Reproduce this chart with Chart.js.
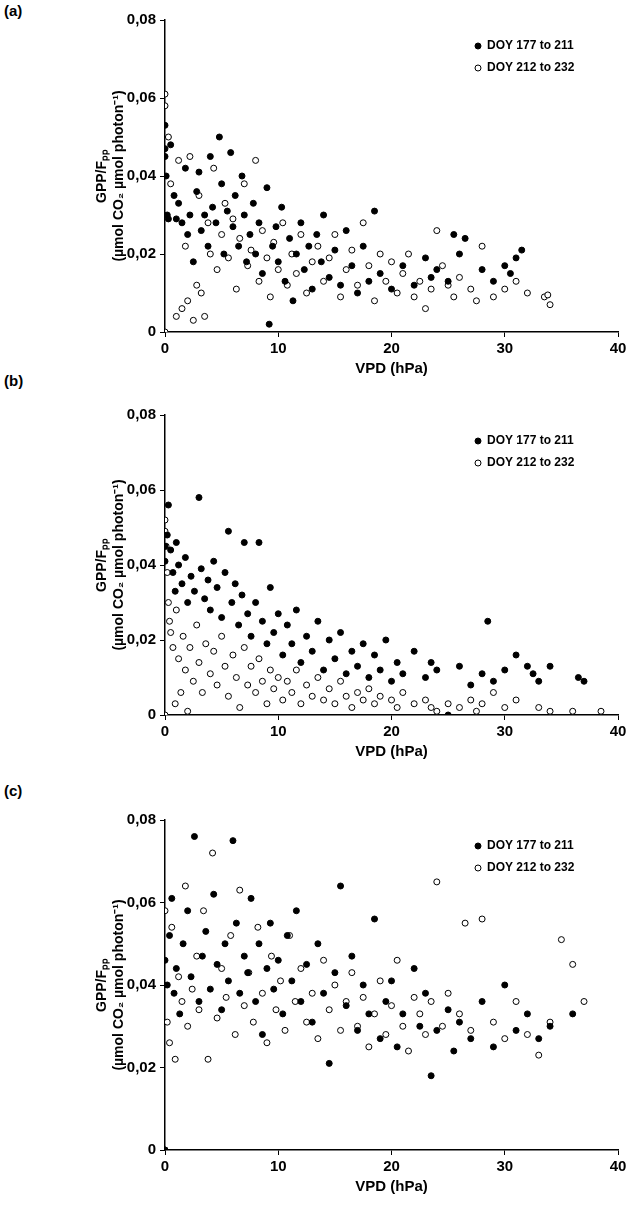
<!DOCTYPE html>
<html>
<head>
<meta charset="utf-8">
<script src="https://cdn.jsdelivr.net/npm/chart.js@4"></script>
<style>
  body { margin: 0; background: #fff; width: 632px; height: 1227px; position: relative; overflow: hidden; }
  .box { position: absolute; left: 0; width: 632px; }
  .lab { position: absolute; left: 4px; font: bold 15px "Liberation Sans", Arial, sans-serif; }
</style>
</head>
<body>
<div class="lab" style="top:2px">(a)</div>
<div class="lab" style="top:372px">(b)</div>
<div class="lab" style="top:782px">(c)</div>
<div class="box" style="top:0;height:382px"><canvas id="ga"></canvas></div>
<div class="box" style="top:375px;height:390px"><canvas id="gb"></canvas></div>
<div class="box" style="top:785px;height:415px"><canvas id="gc"></canvas></div>
<script>
const serieNombres = ['DOY 177 to 211', 'DOY 212 to 232'];
const xTicks = [0, 10, 20, 30, 40];
const yTicks = [0, 0.02, 0.04, 0.06, 0.08];

const aLleno = [[0,0.053],[0,0.047],[0,0.045],[0.1,0.04],[0.2,0.03],[0.3,0.029],[0.5,0.048],[0.8,0.035],[1,0.029],[1.2,0.033],[1.5,0.028],[1.8,0.042],[2,0.025],[2.2,0.03],[2.5,0.018],[2.8,0.036],[3,0.041],[3.2,0.026],[3.5,0.03],[3.8,0.022],[4,0.045],[4.2,0.032],[4.5,0.028],[4.8,0.05],[5,0.038],[5.2,0.02],[5.5,0.031],[5.8,0.046],[6,0.027],[6.2,0.035],[6.5,0.022],[6.8,0.04],[7,0.03],[7.2,0.018],[7.5,0.025],[7.8,0.033],[8,0.02],[8.3,0.028],[8.6,0.015],[9,0.037],[9.2,0.002],[9.5,0.022],[9.8,0.027],[10,0.018],[10.3,0.032],[10.6,0.013],[11,0.024],[11.3,0.008],[11.6,0.02],[12,0.028],[12.3,0.016],[12.7,0.022],[13,0.011],[13.4,0.025],[13.8,0.018],[14,0.03],[14.5,0.014],[15,0.021],[15.5,0.012],[16,0.026],[16.5,0.017],[17,0.01],[17.5,0.022],[18,0.013],[18.5,0.031],[19,0.015],[20,0.011],[21,0.017],[22,0.012],[23,0.019],[23.5,0.014],[24,0.016],[25,0.013],[25.5,0.025],[26,0.02],[26.5,0.024],[28,0.016],[29,0.013],[30,0.017],[31,0.019],[31.5,0.021],[30.5,0.015]];
const aVacio = [[0,0.061],[0,0.058],[0,0],[0.3,0.05],[0.5,0.038],[1,0.004],[1.2,0.044],[1.5,0.006],[1.8,0.022],[2,0.008],[2.2,0.045],[2.5,0.003],[2.8,0.012],[3,0.035],[3.2,0.01],[3.5,0.004],[3.8,0.028],[4,0.02],[4.3,0.042],[4.6,0.016],[5,0.025],[5.3,0.033],[5.6,0.019],[6,0.029],[6.3,0.011],[6.6,0.024],[7,0.038],[7.3,0.017],[7.6,0.021],[8,0.044],[8.3,0.013],[8.6,0.026],[9,0.019],[9.3,0.009],[9.6,0.023],[10,0.016],[10.4,0.028],[10.8,0.012],[11.2,0.02],[11.6,0.015],[12,0.025],[12.5,0.01],[13,0.018],[13.5,0.022],[14,0.013],[14.5,0.019],[15,0.025],[15.5,0.009],[16,0.016],[16.5,0.021],[17,0.012],[17.5,0.028],[18,0.017],[18.5,0.008],[19,0.02],[19.5,0.013],[20,0.018],[20.5,0.01],[21,0.015],[21.5,0.02],[22,0.009],[22.5,0.013],[23,0.006],[23.5,0.011],[24,0.026],[24.5,0.017],[25,0.012],[25.5,0.009],[26,0.014],[27,0.011],[27.5,0.008],[28,0.022],[29,0.009],[30,0.011],[31,0.013],[32,0.01],[33.5,0.009],[34,0.007],[33.8,0.0095]];

const bLleno = [[0,0.045],[0,0.041],[0.2,0.048],[0.3,0.056],[0.5,0.044],[0.7,0.038],[0.9,0.033],[1,0.046],[1.2,0.04],[1.5,0.035],[1.8,0.042],[2,0.03],[2.3,0.037],[2.6,0.033],[3,0.058],[3.2,0.039],[3.5,0.031],[3.8,0.036],[4,0.028],[4.3,0.041],[4.6,0.034],[5,0.026],[5.3,0.038],[5.6,0.049],[5.9,0.03],[6.2,0.035],[6.5,0.024],[6.8,0.032],[7,0.046],[7.3,0.027],[7.6,0.021],[8,0.03],[8.3,0.046],[8.6,0.025],[9,0.019],[9.3,0.034],[9.6,0.022],[10,0.027],[10.4,0.016],[10.8,0.024],[11.2,0.019],[11.6,0.028],[12,0.014],[12.5,0.021],[13,0.017],[13.5,0.025],[14,0.012],[14.5,0.02],[15,0.015],[15.5,0.022],[16,0.011],[16.5,0.017],[17,0.013],[17.5,0.019],[18,0.01],[18.5,0.016],[19,0.012],[19.5,0.02],[20,0.009],[20.5,0.014],[21,0.011],[22,0.017],[23,0.01],[23.5,0.014],[24,0.012],[25,0],[26,0.013],[27,0.008],[28,0.011],[28.5,0.025],[29,0.009],[30,0.012],[31,0.016],[32,0.013],[32.5,0.011],[33,0.009],[34,0.013],[36.5,0.01],[37,0.009]];
const bVacio = [[0,0],[0,0.052],[0,0.049],[0.1,0.045],[0.2,0.038],[0.3,0.03],[0.4,0.025],[0.5,0.022],[0.7,0.018],[0.9,0.003],[1,0.028],[1.2,0.015],[1.4,0.006],[1.6,0.021],[1.8,0.012],[2,0.001],[2.2,0.018],[2.5,0.009],[2.8,0.024],[3,0.014],[3.3,0.006],[3.6,0.019],[4,0.011],[4.3,0.017],[4.6,0.008],[5,0.021],[5.3,0.013],[5.6,0.005],[6,0.016],[6.3,0.01],[6.6,0.002],[7,0.018],[7.3,0.008],[7.6,0.013],[8,0.006],[8.3,0.015],[8.6,0.009],[9,0.003],[9.3,0.012],[9.6,0.007],[10,0.01],[10.4,0.004],[10.8,0.009],[11.2,0.006],[11.6,0.012],[12,0.003],[12.5,0.008],[13,0.005],[13.5,0.01],[14,0.004],[14.5,0.007],[15,0.003],[15.5,0.009],[16,0.005],[16.5,0.002],[17,0.006],[17.5,0.004],[18,0.007],[18.5,0.003],[19,0.005],[20,0.004],[20.5,0.002],[21,0.006],[22,0.003],[23,0.004],[23.5,0.002],[24,0.001],[25,0.003],[26,0.002],[27,0.004],[27.5,0.001],[28,0.003],[29,0.006],[30,0.002],[31,0.004],[33,0.002],[34,0.001],[36,0.001],[38.5,0.001]];

const cLleno = [[0,0],[0,0.046],[0.2,0.04],[0.4,0.052],[0.6,0.061],[0.8,0.038],[1,0.044],[1.3,0.033],[1.6,0.05],[2,0.058],[2.3,0.042],[2.6,0.076],[3,0.036],[3.3,0.047],[3.6,0.053],[4,0.039],[4.3,0.062],[4.6,0.045],[5,0.034],[5.3,0.05],[5.6,0.041],[6,0.075],[6.3,0.055],[6.6,0.038],[7,0.047],[7.3,0.043],[7.6,0.061],[8,0.036],[8.3,0.05],[8.6,0.028],[9,0.044],[9.3,0.055],[9.6,0.039],[10,0.046],[10.4,0.033],[10.8,0.052],[11.2,0.041],[11.6,0.058],[12,0.036],[12.5,0.045],[13,0.031],[13.5,0.05],[14,0.038],[14.5,0.021],[15,0.043],[15.5,0.064],[16,0.035],[16.5,0.047],[17,0.029],[17.5,0.04],[18,0.033],[18.5,0.056],[19,0.027],[19.5,0.036],[20,0.041],[20.5,0.025],[21,0.033],[22,0.044],[22.5,0.03],[23,0.038],[23.5,0.018],[24,0.029],[25,0.034],[25.5,0.024],[26,0.031],[27,0.027],[28,0.036],[29,0.025],[30,0.04],[31,0.029],[32,0.033],[33,0.027],[34,0.03],[36,0.033]];
const cVacio = [[0,0],[0,0.058],[0.2,0.031],[0.4,0.026],[0.6,0.054],[0.9,0.022],[1.2,0.042],[1.5,0.036],[1.8,0.064],[2,0.03],[2.4,0.039],[2.8,0.047],[3,0.034],[3.4,0.058],[3.8,0.022],[4.2,0.072],[4.6,0.032],[5,0.044],[5.4,0.037],[5.8,0.052],[6.2,0.028],[6.6,0.063],[7,0.035],[7.4,0.043],[7.8,0.031],[8.2,0.054],[8.6,0.038],[9,0.026],[9.4,0.047],[9.8,0.034],[10.2,0.041],[10.6,0.029],[11,0.052],[11.5,0.036],[12,0.044],[12.5,0.031],[13,0.038],[13.5,0.027],[14,0.046],[14.5,0.034],[15,0.04],[15.5,0.029],[16,0.036],[16.5,0.043],[17,0.03],[17.5,0.037],[18,0.025],[18.5,0.033],[19,0.041],[19.5,0.028],[20,0.035],[20.5,0.046],[21,0.03],[21.5,0.024],[22,0.037],[22.5,0.033],[23,0.028],[23.5,0.036],[24,0.065],[24.5,0.03],[25,0.038],[26,0.033],[26.5,0.055],[27,0.029],[28,0.056],[29,0.031],[30,0.027],[31,0.036],[32,0.028],[33,0.023],[34,0.031],[35,0.051],[36,0.045],[37,0.036]];

const fuente = '"Liberation Sans", Arial, sans-serif';

const leyenda = {
    id: 'leyenda',
    afterDraw(chart) {
        const c = chart.ctx, a = chart.chartArea;
        const x = a.right - 140;
        c.save();
        c.font = 'bold 12px ' + fuente;
        c.textBaseline = 'middle';
        chart.data.datasets.forEach((ds, i) => {
            const y = a.top + 26 + i * 22;
            c.beginPath();
            c.arc(x, y, 3, 0, Math.PI * 2);
            c.fillStyle = ds.pointBackgroundColor;
            c.fill();
            c.lineWidth = 1;
            c.strokeStyle = '#000';
            c.stroke();
            c.fillStyle = '#000';
            c.fillText(ds.label, x + 9, y);
        });
        c.restore();
    }
};

function crearGrafica(id, lleno, vacio, padTop) {
    const puntos = arr => arr.map(p => ({ x: p[0], y: p[1] }));
    new Chart(document.getElementById(id), {
        type: 'scatter',
        data: {
            datasets: [
                { label: serieNombres[0], data: puntos(lleno), pointRadius: 3, pointBackgroundColor: '#000', pointBorderColor: '#000', pointBorderWidth: 1 },
                { label: serieNombres[1], data: puntos(vacio), pointRadius: 3, pointBackgroundColor: '#fff', pointBorderColor: '#000', pointBorderWidth: 1 }
            ]
        },
        options: {
            responsive: true,
            maintainAspectRatio: false,
            animation: false,
            layout: { padding: { top: padTop, right: 14, left: 90, bottom: 0 } },
            plugins: { legend: { display: false }, tooltip: { enabled: false } },
            scales: {
                x: {
                    type: 'linear', min: 0, max: 40,
                    afterBuildTicks: ax => { ax.ticks = xTicks.map(v => ({ value: v })); },
                    afterFit: ax => { ax.height = 50; },
                    border: { color: '#000', width: 1.5 },
                    grid: { drawOnChartArea: false, color: '#000', tickLength: 5 },
                    ticks: { color: '#000', font: { family: fuente, weight: 'bold', size: 15 }, padding: 3 },
                    title: { display: true, text: 'VPD (hPa)', color: '#000', font: { family: fuente, weight: 'bold', size: 15 }, padding: { top: 2 } }
                },
                y: {
                    type: 'linear', min: 0, max: 0.08,
                    afterBuildTicks: ax => { ax.ticks = yTicks.map(v => ({ value: v })); },
                    afterFit: ax => { ax.width = 75; },
                    border: { color: '#000', width: 1.5 },
                    grid: { drawOnChartArea: false, color: '#000', tickLength: 5 },
                    ticks: {
                        color: '#000', font: { family: fuente, weight: 'bold', size: 15 }, padding: 4,
                        callback: v => v === 0 ? '0' : v.toFixed(2).replace('.', ',')
                    },
                    title: {
                        display: true, color: '#000', font: { family: fuente, weight: 'bold', size: 14 },
                        text: ['GPP/Fₚₚ', '(µmol CO₂ µmol photon⁻¹)'], padding: { bottom: 6 }
                    }
                }
            }
        },
        plugins: [leyenda]
    });
}

crearGrafica('ga', aLleno, aVacio, 20);
crearGrafica('gb', bLleno, bVacio, 40);
crearGrafica('gc', cLleno, cVacio, 35);
</script>
</body>
</html>
